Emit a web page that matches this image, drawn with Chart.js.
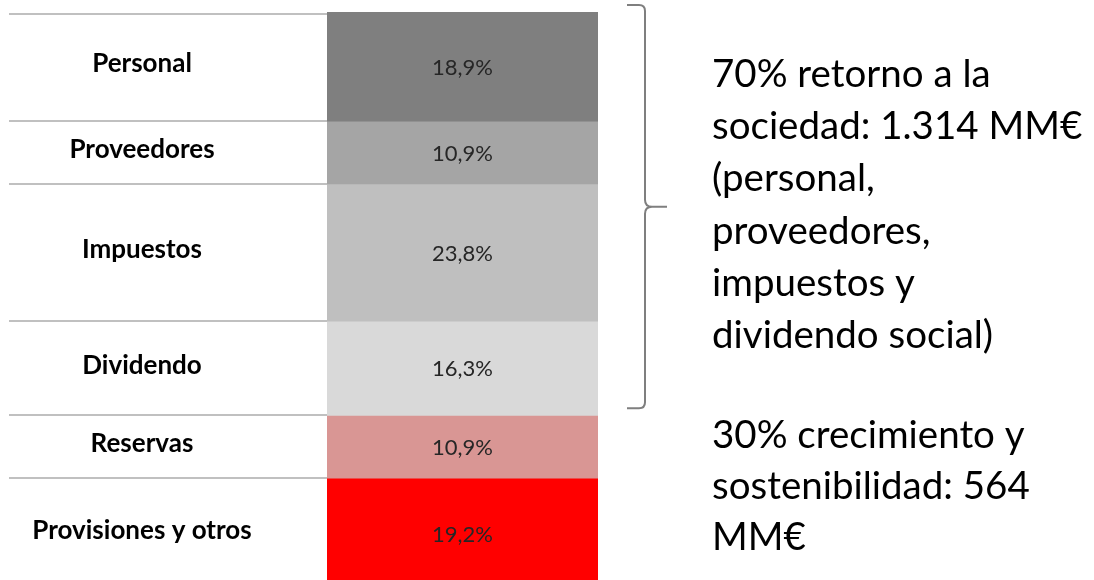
<!DOCTYPE html>
<html>
<head>
<meta charset="utf-8">
<script src="https://cdn.jsdelivr.net/npm/chart.js@4.4.1/dist/chart.umd.min.js"></script>
<style>
  html, body { margin: 0; padding: 0; background: #fff; overflow: hidden; }
  #wrap { width: 1094px; height: 580px; overflow: hidden; }
</style>
</head>
<body>
<div id="wrap"><canvas id="chart" width="1094" height="600"></canvas></div>
<script>
// segment data, top to bottom
const categories = ['Personal', 'Proveedores', 'Impuestos', 'Dividendo', 'Reservas', 'Provisiones y otros'];
const shares = [18.9, 10.9, 23.8, 16.3, 10.9, 19.2];
const shareLabels = ['18,9%', '10,9%', '23,8%', '16,3%', '10,9%', '19,2%'];
const colors = ['#7f7f7f', '#a5a5a5', '#bfbfbf', '#d9d9d9', '#d99694', '#ff0000'];

const noteSociety = ['70% retorno a la', 'sociedad: 1.314 MM€', '(personal,', 'proveedores,', 'impuestos y', 'dividendo social)'];
const noteGrowth = ['30% crecimiento y', 'sostenibilidad: 564', 'MM€'];
const societyCount = 4; // first four segments go back to society

const FONT = 'Lato, Calibri, "Open Sans", sans-serif';

const annotations = {
    id: 'annotations',
    afterDatasetsDraw(chart) {
        const ctx = chart.ctx;
        const y = chart.scales.y;
        const area = chart.chartArea;

        // cumulative boundaries
        const bounds = [0];
        shares.forEach(v => bounds.push(bounds[bounds.length - 1] + v));

        ctx.save();

        // separators on the left
        ctx.strokeStyle = '#c0c0c0';
        ctx.lineWidth = 2;
        for (let i = 0; i < bounds.length - 1; i++) {
            const py = Math.round(y.getPixelForValue(bounds[i])) + (i === 0 ? 2 : 0);
            ctx.beginPath();
            ctx.moveTo(9, py);
            ctx.lineTo(area.left, py);
            ctx.stroke();
        }

        // category names and values
        ctx.textAlign = 'center';
        ctx.textBaseline = 'middle';
        categories.forEach((name, i) => {
            const mid = y.getPixelForValue((bounds[i] + bounds[i + 1]) / 2);
            ctx.fillStyle = '#000';
            ctx.font = 'bold 26px ' + FONT;
            ctx.fillText(name, 142, mid - 3);
            ctx.fillStyle = '#262626';
            ctx.font = '22px ' + FONT;
            ctx.fillText(shareLabels[i], (area.left + area.right) / 2, mid + 1);
        });

        // bracket for the society part
        const top = y.getPixelForValue(0) - 7;
        const bot = y.getPixelForValue(bounds[societyCount]) - 7;
        const midB = (top + bot) / 2;
        const bx = 645;
        ctx.strokeStyle = '#7f7f7f';
        ctx.lineWidth = 2;
        ctx.beginPath();
        ctx.moveTo(627, top);
        ctx.lineTo(bx - 6, top);
        ctx.quadraticCurveTo(bx, top, bx, top + 6);
        ctx.lineTo(bx, midB - 7);
        ctx.quadraticCurveTo(bx, midB, bx + 7, midB);
        ctx.lineTo(667, midB);
        ctx.moveTo(bx + 7, midB);
        ctx.quadraticCurveTo(bx, midB, bx, midB + 7);
        ctx.lineTo(bx, bot - 6);
        ctx.quadraticCurveTo(bx, bot, bx - 6, bot);
        ctx.lineTo(627, bot);
        ctx.stroke();

        // notes on the right
        ctx.fillStyle = '#000';
        ctx.font = '38.5px ' + FONT;
        ctx.textAlign = 'left';
        ctx.textBaseline = 'alphabetic';
        noteSociety.forEach((t, i) => ctx.fillText(t, 712, 87 + i * 52.2));
        noteGrowth.forEach((t, i) => ctx.fillText(t, 712, 448 + i * 51));

        ctx.restore();
    }
};

const datasets = categories.map((name, i) => ({
    label: name,
    data: [shares[i]],
    backgroundColor: colors[i],
    borderWidth: 0,
    barPercentage: 1,
    categoryPercentage: 1
}));

new Chart(document.getElementById('chart').getContext('2d'), {
    type: 'bar',
    data: { labels: [''], datasets: datasets },
    options: {
        responsive: false,
        animation: false,
        devicePixelRatio: 1,
        layout: { padding: { left: 327, right: 496, top: 12, bottom: 11 } },
        scales: {
            x: { stacked: true, display: false },
            y: { stacked: true, display: false, min: 0, max: 100, reverse: true }
        },
        plugins: {
            legend: { display: false },
            tooltip: { enabled: false }
        }
    },
    plugins: [annotations]
});
</script>
</body>
</html>
